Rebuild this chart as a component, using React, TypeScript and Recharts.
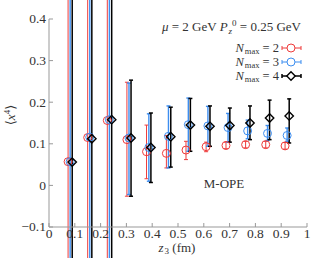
import { ScatterChart, Scatter, XAxis, YAxis, ErrorBar } from "recharts";

// z3 positions (fm) per series, slightly shifted so the bars don't overlap
const z3N2 = [0.074, 0.15, 0.226, 0.302, 0.378, 0.455, 0.531, 0.609, 0.686, 0.762, 0.84, 0.915];
const z3N3 = [0.082, 0.158, 0.234, 0.31, 0.387, 0.463, 0.54, 0.616, 0.694, 0.77, 0.847, 0.923];
const z3N4 = [0.09, 0.166, 0.243, 0.318, 0.395, 0.472, 0.548, 0.624, 0.701, 0.779, 0.855, 0.931];

const valN2 = [0.057, 0.115, 0.156, 0.11, 0.081, 0.077, 0.085, 0.093, 0.096, 0.098, 0.098, 0.095];
const lowN2 = [-1, -1, -1, -0.026, 0.016, 0.042, 0.062, 0.081, 0.088, 0.09, 0.09, 0.087];
const highN2 = [1, 1, 1, 0.248, 0.145, 0.12, 0.106, 0.104, 0.104, 0.106, 0.106, 0.103];

const valN3 = [0.057, 0.116, 0.158, 0.114, 0.091, 0.118, 0.146, 0.143, 0.139, 0.131, 0.125, 0.12];
const lowN3 = [-1, -1, -1, -0.022, 0.01, 0.042, 0.082, 0.094, 0.104, 0.112, 0.108, 0.106];
const highN3 = [1, 1, 1, 0.246, 0.172, 0.191, 0.21, 0.19, 0.173, 0.157, 0.144, 0.138];

const valN4 = [0.056, 0.112, 0.158, 0.114, 0.091, 0.117, 0.145, 0.142, 0.144, 0.15, 0.162, 0.167];
const lowN4 = [-1, -1, -1, -0.026, 0.007, 0.044, 0.082, 0.094, 0.104, 0.11, 0.11, 0.102];
const highN4 = [1, 1, 1, 0.253, 0.174, 0.188, 0.209, 0.191, 0.186, 0.191, 0.205, 0.208];

const xTicks = [0, 0.1, 0.2, 0.3, 0.4, 0.5, 0.6, 0.7, 0.8, 0.9, 1];
const yTicks = [-0.1, 0, 0.1, 0.2, 0.3, 0.4];

const RED = "#ee3b3b";
const BLUE = "#3d8ef0";
const BLACK = "#000000";
const FONT = "'Liberation Serif', 'DejaVu Serif', serif";
const AXIS = "#999999";
const INK = "#333333";

function build(xs: number[], ys: number[], lo: number[], hi: number[]) {
  return xs.map((x, i) => ({ x, y: ys[i], err: [ys[i] - lo[i], hi[i] - ys[i]] }));
}

const dataN2 = build(z3N2, valN2, lowN2, highN2);
const dataN3 = build(z3N3, valN3, lowN3, highN3);
const dataN4 = build(z3N4, valN4, lowN4, highN4);

const fmt = (v: number) => (v === 0 ? "0" : v === 1 ? "1" : v < 0 ? "\u2212" + Math.abs(v).toFixed(1) : v.toFixed(1));

const Circle = (color: string) => (p: any) => (
  <circle cx={p.cx} cy={p.cy} r={4} fill="none" stroke={color} strokeWidth={1} />
);

const Diamond = (p: any) => {
  const s = 4.2;
  return (
    <polygon
      points={`${p.cx},${p.cy - s} ${p.cx + s},${p.cy} ${p.cx},${p.cy + s} ${p.cx - s},${p.cy}`}
      fill="none"
      stroke={BLACK}
      strokeWidth={1.4}
    />
  );
};

const XTick = (p: any) => (
  <text x={p.x} y={p.y} dy="0.72em" textAnchor="middle" fontFamily={FONT} fontSize={13.5} fill={INK}>
    {fmt(p.payload.value)}
  </text>
);

const YTick = (p: any) => (
  <text x={p.x} y={p.y} dy="0.33em" textAnchor="end" fontFamily={FONT} fontSize={13.5} fill={INK}>
    {fmt(p.payload.value)}
  </text>
);

function LegendRow({ y, n, color, diamond }: { y: number; n: number; color: string; diamond?: boolean }) {
  const cx = 291;
  const w = diamond ? 1.5 : 1;
  return (
    <g>
      <text x={279} y={y + 4} textAnchor="end" fontFamily={FONT} fontSize={12.5} fill={INK}>
        <tspan fontStyle="italic">N</tspan>
        <tspan fontSize={8.5} dx={1} dy={2}>max</tspan>
        <tspan dy={-2}> = {n}</tspan>
      </text>
      <line x1={282} x2={301} y1={y} y2={y} stroke={color} strokeWidth={w} />
      <line x1={282} x2={282} y1={y - 2} y2={y + 2} stroke={color} strokeWidth={w} />
      <line x1={301} x2={301} y1={y - 2} y2={y + 2} stroke={color} strokeWidth={w} />
      {diamond ? (
        <polygon
          points={`${cx},${y - 4.2} ${cx + 4.2},${y} ${cx},${y + 4.2} ${cx - 4.2},${y}`}
          fill="#fff"
          stroke={color}
          strokeWidth={1.4}
        />
      ) : (
        <circle cx={cx} cy={y} r={4} fill="#fff" stroke={color} strokeWidth={1} />
      )}
    </g>
  );
}

export default function App() {
  return (
    <div style={{ position: "absolute", left: 0, top: 0, background: "#fff", fontFamily: FONT }}>
      <ScatterChart
        width={323}
        height={258}
        margin={{ top: 19, right: 16, bottom: 0, left: 9 }}
        style={{ fontFamily: FONT }}
      >
        <XAxis
          xAxisId="b"
          type="number"
          dataKey="x"
          domain={[0, 1]}
          ticks={xTicks}
          allowDataOverflow
          height={31}
          tickSize={-4}
          tickMargin={5}
          stroke={AXIS}
          tick={XTick}
          interval={0}
        />
        <XAxis
          xAxisId="t"
          orientation="top"
          type="number"
          domain={[0, 1]}
          ticks={xTicks}
          tickFormatter={() => ""}
          height={0}
          tickSize={-4}
          stroke={AXIS}
          interval={0}
        />
        <YAxis
          yAxisId="l"
          type="number"
          dataKey="y"
          domain={[-0.1, 0.4]}
          ticks={yTicks}
          allowDataOverflow
          width={40}
          tickSize={-4}
          tickMargin={7}
          stroke={AXIS}
          tick={YTick}
          interval={0}
        />
        <YAxis
          yAxisId="r"
          orientation="right"
          type="number"
          domain={[-0.1, 0.4]}
          ticks={yTicks}
          tickFormatter={() => ""}
          width={0}
          tickSize={-4}
          stroke={AXIS}
          interval={0}
        />
        <Scatter xAxisId="b" yAxisId="l" data={dataN2} shape={Circle(RED)} isAnimationActive={false}>
          <ErrorBar dataKey="err" direction="y" width={2} stroke={RED} strokeWidth={1} />
        </Scatter>
        <Scatter xAxisId="b" yAxisId="l" data={dataN3} shape={Circle(BLUE)} isAnimationActive={false}>
          <ErrorBar dataKey="err" direction="y" width={2} stroke={BLUE} strokeWidth={1.4} />
        </Scatter>
        <Scatter xAxisId="b" yAxisId="l" data={dataN4} shape={Diamond} isAnimationActive={false}>
          <ErrorBar dataKey="err" direction="y" width={2} stroke={BLACK} strokeWidth={1.5} />
        </Scatter>

        <text x={301} y={31} textAnchor="end" fontFamily={FONT} fontSize={13} fill={INK}>
          <tspan fontStyle="italic">μ</tspan>
          <tspan> = 2 GeV </tspan>
          <tspan fontStyle="italic">P</tspan>
          <tspan fontSize={9} dx={1} dy={2.5} fontStyle="italic">z</tspan>
          <tspan fontSize={9} dy={-8}>0</tspan>
          <tspan dy={5.5}> = 0.25 GeV</tspan>
        </text>
        <LegendRow y={48} n={2} color={RED} />
        <LegendRow y={62} n={3} color={BLUE} />
        <LegendRow y={76} n={4} color={BLACK} diamond />

        <text x={224} y={188} textAnchor="middle" fontFamily={FONT} fontSize={13} fill={INK}>
          M-OPE
        </text>
        <text x={177} y={252} textAnchor="middle" fontFamily={FONT} fontSize={13} fill={INK}>
          <tspan fontStyle="italic">z</tspan>
          <tspan fontSize={9} dx={1} dy={2}>3</tspan>
          <tspan dy={-2}> (fm)</tspan>
        </text>
        <text
          x={15}
          y={115}
          textAnchor="middle"
          fontFamily={FONT}
          fontSize={13}
          fill={INK}
          transform="rotate(-90 15 115)"
        >
          <tspan>⟨</tspan>
          <tspan fontStyle="italic">x</tspan>
          <tspan fontSize={9} dy={-5}>4</tspan>
          <tspan dy={5}>⟩</tspan>
        </text>
      </ScatterChart>
    </div>
  );
}
